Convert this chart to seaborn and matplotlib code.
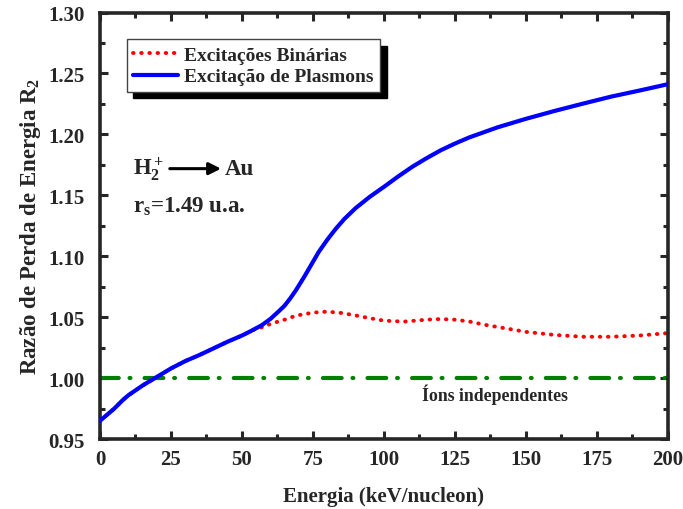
import matplotlib
matplotlib.use("Agg")
import matplotlib.pyplot as plt
import seaborn as sns
import pandas as pd

# Energy (keV/nucleon) and stopping-ratio values for the two models
energy_binary = [0, 2, 5, 8, 10, 15, 20, 25, 30, 35, 40, 45, 50, 53, 55, 57.5, 60, 65, 69,
                 75, 80, 85, 90, 95, 100, 107, 115, 120, 125, 130, 135, 140, 145, 150, 160,
                 170, 180, 190, 200]
ratio_binary = [0.965, 0.969, 0.975, 0.982, 0.986, 0.994, 1.001, 1.008, 1.014, 1.019, 1.0245,
                1.0300, 1.0350, 1.0385, 1.0405, 1.0420, 1.0445, 1.0480, 1.0513, 1.0538,
                1.0546, 1.0535, 1.0515, 1.0492, 1.0472, 1.0464, 1.0480, 1.0485, 1.0480,
                1.0465, 1.0440, 1.0420, 1.0400, 1.0380, 1.0355, 1.0340, 1.0340, 1.0350,
                1.0370]

energy_plasmon = [0, 2, 5, 8, 10, 15, 20, 25, 30, 35, 40, 45, 50, 53, 55, 57, 60, 63, 65, 67,
                  69, 72, 74, 77, 80, 83, 86, 90, 95, 100, 105, 110, 115, 120, 125, 130, 140,
                  150, 160, 170, 180, 190, 200]
ratio_plasmon = [0.965, 0.969, 0.975, 0.982, 0.986, 0.994, 1.001, 1.008, 1.014, 1.019, 1.0245,
                 1.0300, 1.0350, 1.0385, 1.0410, 1.0435, 1.0486, 1.0550, 1.0595, 1.0655,
                 1.0722, 1.0835, 1.0915, 1.1035, 1.1135, 1.1225, 1.1305, 1.1395, 1.1488,
                 1.1570, 1.1655, 1.1735, 1.1805, 1.1870, 1.1925, 1.1975, 1.2058, 1.2128,
                 1.2192, 1.2252, 1.2310, 1.2360, 1.2412]

independent_level = 1.0

x_ticks = [0, 25, 50, 75, 100, 125, 150, 175, 200]
y_ticks = [0.95, 1.00, 1.05, 1.10, 1.15, 1.20, 1.25, 1.30]

sns.set_style("ticks")
plt.rcParams["font.family"] = ["Liberation Serif", "DejaVu Serif"]
plt.rcParams["font.weight"] = "bold"
plt.rcParams["mathtext.fontset"] = "custom"
plt.rcParams["mathtext.rm"] = "Liberation Serif:bold"
plt.rcParams["mathtext.it"] = "Liberation Serif:bold"
plt.rcParams["mathtext.bf"] = "Liberation Serif:bold"

fig = plt.figure(figsize=(6.83, 5.10), dpi=100)
ax = fig.add_axes([0.1464, 0.137, 0.8316, 0.8365])

df_b = pd.DataFrame({"E": energy_binary, "R": ratio_binary})
df_p = pd.DataFrame({"E": energy_plasmon, "R": ratio_plasmon})

ax.axhline(independent_level, color="#008000", lw=3.0, dashes=(4.5, 2.6, 0.2, 3.4),
           dash_capstyle="round", zorder=1)
sns.lineplot(data=df_b, x="E", y="R", ax=ax, color="#ff0000", lw=2.8,
             linestyle=(0, (0.15, 1.95)), dash_capstyle="round",
             label="Excitações Binárias", zorder=2)
sns.lineplot(data=df_p, x="E", y="R", ax=ax, color="#0000ff", lw=3.0,
             label="Excitação de Plasmons", zorder=3)

ax.set_xlim(0, 200)
ax.set_ylim(0.95, 1.30)
ax.set_xticks(x_ticks)
ax.set_xticklabels([str(v) for v in x_ticks])
ax.set_yticks(y_ticks)
ax.set_yticklabels([f"{v:.2f}" for v in y_ticks])
ax.set_xticks([12.5 + 25 * i for i in range(8)], minor=True)
ax.set_yticks([0.975 + 0.05 * i for i in range(7)], minor=True)
ax.tick_params(which="both", direction="in", top=True, right=True, width=2.2)
ax.tick_params(which="major", length=6, labelsize=15)
ax.tick_params(which="minor", length=3.5)
ax.tick_params(axis="x", which="major", pad=7)
ax.tick_params(axis="y", which="major", pad=11)
for lab in ax.get_xticklabels() + ax.get_yticklabels():
    lab.set_fontweight("bold")
for sp in ax.spines.values():
    sp.set_linewidth(2.6)

ax.set_xlabel("Energia (keV/nucleon)", fontsize=15, fontweight="bold", labelpad=12)
ax.set_ylabel("Razão de Perda de Energia R$_2$", fontsize=16.5, fontweight="bold", labelpad=4)

handles, labels = ax.get_legend_handles_labels()
order = [labels.index("Excitações Binárias"), labels.index("Excitação de Plasmons")]
leg = ax.legend([handles[i] for i in order], [labels[i] for i in order],
                loc="upper left", bbox_to_anchor=(0.047, 0.937), borderaxespad=0,
                fancybox=False, shadow={"color": "black", "alpha": 1.0, "ox": 4.5, "oy": -4.5},
                edgecolor="#444444", framealpha=1, handlelength=2.3,
                handletextpad=0.3, borderpad=0.35, labelspacing=0.2,
                prop={"family": "Liberation Serif", "weight": "bold", "size": 14})
leg.get_frame().set_linewidth(1.0)

ax.text(0.058, 0.634, r"H$_2^+$", transform=ax.transAxes, fontsize=16.5,
        fontweight="bold", va="center", ha="left")
ax.annotate("", xy=(0.218, 0.634), xytext=(0.118, 0.634), xycoords="axes fraction",
            arrowprops=dict(arrowstyle="-|>", color="black", lw=2.2, mutation_scale=18))
ax.text(0.22, 0.634, "Au", transform=ax.transAxes, fontsize=16.5,
        fontweight="bold", va="center", ha="left")
ax.text(0.058, 0.547, r"r$_s$=1.49 u.a.", transform=ax.transAxes, fontsize=16.5,
        fontweight="bold", va="center", ha="left")
ax.text(0.695, 0.106, "Íons independentes", transform=ax.transAxes, fontsize=12.8,
        fontweight="bold", va="center", ha="center")

fig.savefig("out.png", dpi=100)
